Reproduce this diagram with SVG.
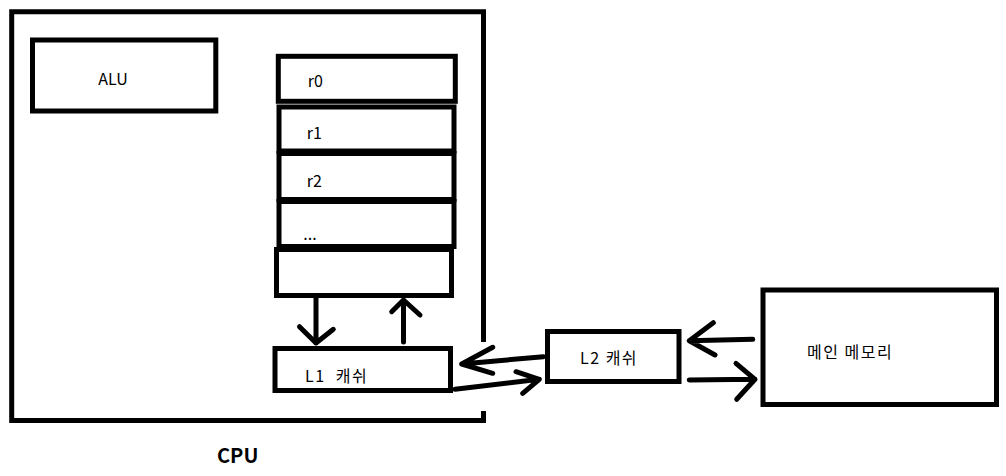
<svg xmlns="http://www.w3.org/2000/svg" width="1006" height="476" viewBox="0 0 1006 476">
<style>
.box{fill:#fff;stroke:#000;stroke-width:5}
.ln{fill:none;stroke:#000;stroke-width:5;stroke-linecap:round;stroke-linejoin:round}
.t{font-family:"Noto Sans CJK KR","Liberation Sans",sans-serif;font-size:16px;fill:#000}
.k{letter-spacing:1.5px}
.b{font-family:"Noto Sans CJK KR","Liberation Sans",sans-serif;font-size:20px;font-weight:bold;fill:#000}
</style>
<rect width="1006" height="476" fill="#fff"/>
<g id="cpu">
<path d="M483.5,342 V11.7 H11.7 V420.5 H483.5 V411" fill="none" stroke="#000" stroke-width="5"/>
<text class="b" x="217" y="463">CPU</text>
</g>
<g id="alu">
<rect class="box" x="32.5" y="40" width="183.3" height="71"/>
<text class="t" x="98.3" y="85">ALU</text>
</g>
<g id="r0">
<rect class="box" x="278.3" y="56.3" width="177" height="45"/>
<text class="t" x="307.7" y="86.7">r0</text>
</g>
<g id="r1">
<rect class="box" x="279" y="107" width="175" height="44"/>
<text class="t" x="306.7" y="139">r1</text>
</g>
<g id="r2">
<rect class="box" x="279" y="153.5" width="175" height="46"/>
<text class="t" x="306.7" y="186.7">r2</text>
</g>
<g id="rdots">
<rect class="box" x="279" y="201.5" width="175" height="45"/>
<text class="t" x="303.3" y="240">...</text>
</g>
<g id="rblank">
<rect class="box" x="276.5" y="249.5" width="175" height="46"/>
</g>
<g id="l1">
<rect class="box" x="275" y="348.5" width="175.5" height="42"/>
<text class="t k" x="305" y="381.5" xml:space="preserve">L1  캐쉬</text>
</g>
<g id="l2">
<rect class="box" x="547.5" y="331.5" width="131.5" height="50"/>
<text class="t k" x="580" y="364.3">L2 캐쉬</text>
</g>
<g id="mem">
<rect class="box" x="763" y="290" width="233.5" height="114.5"/>
<text class="t k" x="807" y="358">메인 메모리</text>
</g>
<g id="connectors">
<path class="ln" d="M316,298 V343 M299.5,326.7 L316,343 L333.3,329.3"/>
<path class="ln" d="M403.5,342 V300 M391.7,311.7 L403.5,300 L420,315"/>
<path class="ln" d="M543.3,356.7 L461.7,364 M492.7,347.3 L461.7,364 L492.7,373.3"/>
<path class="ln" d="M455,389.3 L539.3,379.3 M516,371.7 L539.3,379.3 L522.7,393.3"/>
<path class="ln" d="M752.7,339.3 L689.3,340.7 M713.3,322.7 L689.3,340.7 L715,355"/>
<path class="ln" d="M689.3,380 L755,379.3 M736,363.3 L755,379.3 L736.7,399.3"/>
</g>
</svg>
